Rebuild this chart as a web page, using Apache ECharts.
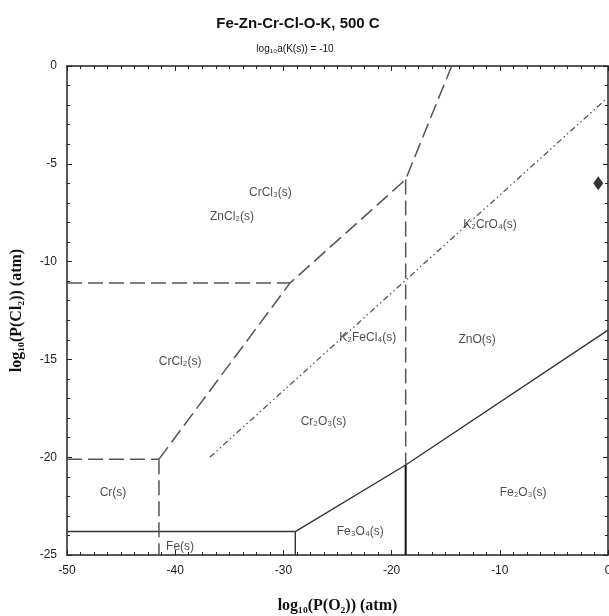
<!DOCTYPE html>
<html><head><meta charset="utf-8">
<script src="https://cdn.jsdelivr.net/npm/echarts@6/dist/echarts.min.js"></script>
<style>html,body{margin:0;padding:0;background:#fff}#c{width:609px;height:616px}</style>
</head><body><div id="c"></div>
<script>
// Axis ranges
const xRange = [-50, 0];
const yRange = [-25, 0];

// Phase boundaries [log10 P(O2), log10 P(Cl2)]
const feHoriz = [[-50, -23.8], [-28.9, -23.8]];
const feVert1 = [[-28.9, -23.8], [-28.9, -25]];
const feOxide = [[-28.9, -23.8], [-18.7, -20.4], [0, -13.5]];
const feVert2 = [[-18.7, -20.4], [-18.7, -25]];
const crHoriz1 = [[-50, -20.1], [-41.5, -20.1]];
const crVert1 = [[-41.5, -20.1], [-41.5, -25]];
const crDiag = [[-41.5, -20.1], [-29.4, -11.1], [-18.7, -5.8], [-14.45, 0]];
const crHoriz2 = [[-50, -11.1], [-29.4, -11.1]];
const crVert2 = [[-18.7, -5.8], [-18.7, -20.4]];
const kLine = [[-36.8, -20.0], [0, -1.6]];
const markerPoint = [[-0.9, -6.0]];

// Region labels
const regionNames = ['CrCl₃(s)', 'ZnCl₂(s)', 'CrCl₂(s)', 'K₂FeCl₄(s)', 'ZnO(s)', 'Cr₂O₃(s)', 'Fe₂O₃(s)', 'Fe₃O₄(s)', 'Fe(s)', 'Cr(s)', 'K₂CrO₄(s)'];
const regionX = [-31.2, -34.75, -39.55, -22.2, -12.1, -26.3, -7.85, -22.9, -39.55, -45.75, -10.9];
const regionY = [-6.5, -7.7, -15.1, -13.9, -14.0, -18.2, -21.8, -23.8, -24.6, -21.8, -8.1];

const chart = echarts.init(document.getElementById('c'), null, {renderer: 'canvas'});

function seg(data, color, width, type) {
  return {type: 'line', data: data, xAxisIndex: 0, yAxisIndex: 0, symbol: 'none', silent: true,
    lineStyle: {color: color, width: width, type: type}, z: 3};
}
const dashed = [15, 6];
const dashDot = [6, 3, 1.5, 3, 1.5, 3];

const axisCommon = {
  min: xRange[0], max: xRange[1], interval: 10,
  axisLine: {show: true, onZero: false, lineStyle: {color: '#222', width: 1.5}},
  axisTick: {inside: true, length: 5, lineStyle: {color: '#222'}},
  minorTick: {show: true, splitNumber: 8, length: 3, lineStyle: {color: '#222'}},
  splitLine: {show: false}
};
const yCommon = {
  min: yRange[0], max: yRange[1], interval: 5,
  axisLine: {show: true, onZero: false, lineStyle: {color: '#222', width: 1.5}},
  axisTick: {inside: true, length: 5, lineStyle: {color: '#222'}},
  minorTick: {show: true, splitNumber: 5, length: 3, lineStyle: {color: '#222'}},
  splitLine: {show: false}
};

chart.setOption({
  animation: false,
  backgroundColor: '#fff',
  title: [
    {text: 'Fe-Zn-Cr-Cl-O-K, 500 C', left: 293, top: 11, textAlign: 'center',
     textStyle: {fontFamily: 'Liberation Sans', fontWeight: 'bold', fontSize: 15, color: '#111'}},
    {text: 'log₁₀a(K(s)) = -10', left: 290, top: 39, textAlign: 'center',
     textStyle: {fontFamily: 'Liberation Sans', fontWeight: 'normal', fontSize: 10, color: '#111'}}
  ],
  grid: {left: 67, right: 1, top: 66, bottom: 61, containLabel: false, outerBoundsMode: 'none'},
  xAxis: [
    Object.assign({type: 'value', position: 'bottom',
      name: 'log₁₀(P(O₂)) (atm)', nameLocation: 'middle', nameGap: 43,
      nameTextStyle: {fontFamily: 'Liberation Serif', fontWeight: 'bold', fontSize: 16, color: '#111'},
      axisLabel: {show: true, margin: 10, fontFamily: 'Liberation Sans', fontSize: 12, color: '#222'}}, axisCommon),
    Object.assign({type: 'value', position: 'top', axisLabel: {show: false}}, axisCommon)
  ],
  yAxis: [
    Object.assign({type: 'value', position: 'left',
      name: 'log₁₀(P(Cl₂)) (atm)', nameLocation: 'middle', nameGap: 42,
      nameTextStyle: {fontFamily: 'Liberation Serif', fontWeight: 'bold', fontSize: 16, color: '#111'},
      axisLabel: {show: true, margin: 10, fontFamily: 'Liberation Sans', fontSize: 12, color: '#222'}}, yCommon),
    Object.assign({type: 'value', position: 'right', axisLabel: {show: false}}, yCommon)
  ],
  series: [
    seg(feHoriz, '#333', 1.4, 'solid'),
    seg(feVert1, '#333', 1.4, 'solid'),
    seg(feOxide, '#333', 1.4, 'solid'),
    seg(feVert2, '#111', 2, 'solid'),
    seg(crHoriz1, '#555', 1.5, dashed),
    seg(crVert1, '#555', 1.5, dashed),
    seg(crDiag, '#555', 1.5, dashed),
    seg(crHoriz2, '#555', 1.5, dashed),
    seg(crVert2, '#555', 1.5, dashed),
    seg(kLine, '#555', 1.3, dashDot),
    {type: 'scatter', data: markerPoint, symbol: 'diamond', symbolSize: [10, 14],
     itemStyle: {color: '#000'}, silent: true, z: 4},
    {type: 'scatter', silent: true, symbolSize: 0, z: 5,
     data: regionNames.map((n, i) => ({value: [regionX[i], regionY[i]], name: n})),
     label: {show: true, position: 'inside', formatter: p => p.name,
       fontFamily: 'Liberation Sans', fontSize: 12, color: '#222'}}
  ]
});
</script></body></html>
